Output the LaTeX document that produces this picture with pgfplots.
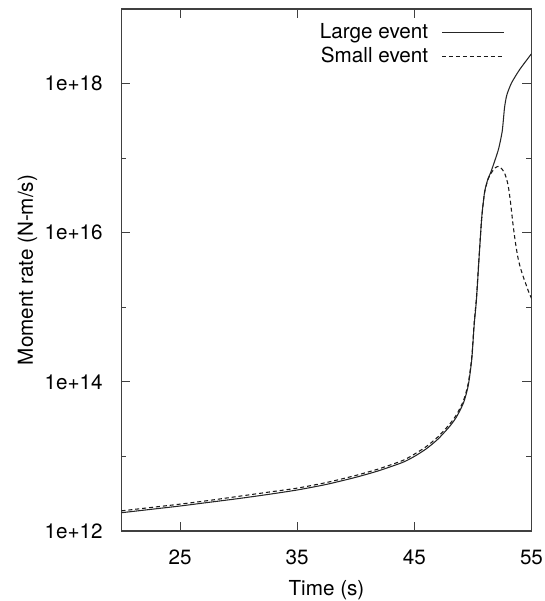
\documentclass[border=0pt]{standalone}
\usepackage{fontspec}
\setmainfont{TeX Gyre Heros}
\usepackage{pgfplots}
\pgfplotsset{compat=1.18}
\begin{document}
\begin{tikzpicture}
\begin{axis}[
  scale only axis,
  width=307.5pt, height=391.5pt,
  xmin=20, xmax=55,
  ymode=log, ymin=1e12, ymax=1e19,
  xtick={25,35,45,55}, xticklabels={25,35,45,55},
  ytick={1e12,1e14,1e16,1e18}, yticklabels={1e+12,1e+14,1e+16,1e+18},
  minor ytick={1e13,1e15,1e17},
  minor xtick={},
  tick align=inside,
  major tick length=6.75pt, minor tick length=3.75pt,
  every tick/.style={black!75, line width=0.6pt},
  axis line style={black!75, line width=0.8pt},
  tick label style={font=\fontsize{15.5}{18}\selectfont, inner sep=0pt},
  yticklabel style={anchor=east, xshift=-13.9pt},
  xticklabel style={anchor=base, yshift=-25.5pt},
  label style={font=\fontsize{15.5}{18}\selectfont, inner sep=0pt},
  xlabel={Time (s)}, ylabel={Moment rate (N-m/s)},
  xlabel style={at={(axis description cs:0.5,-0.1245)}, anchor=base},
  ylabel style={at={(axis description cs:-0.2159,0.5)}, anchor=base},
  legend cell align=right,
  legend plot pos=right,
  legend style={at={(axis description cs:0.935,0.975)}, anchor=north east,
    draw=none, fill=none, inner sep=0pt, row sep=3pt,
    font=\fontsize{15.5}{18}\selectfont,
    nodes={inner sep=1pt},
    /tikz/every odd column/.append style={column sep=9pt}},
  legend image code/.code={\draw[#1] (0pt,0pt) -- (46.5pt,0pt);},
]
\addplot[black!85, line width=0.8pt, smooth, tension=0.4] coordinates {
(20,1.758e12) (22.5,1.950e12) (25,2.163e12) (27.5,2.427e12) (30,2.723e12)
(32.5,3.090e12) (35,3.548e12) (37.5,4.217e12) (40,5.248e12) (42,6.457e12)
(44,8.318e12) (45,1.0e13) (46,1.259e13) (47,1.698e13) (48,2.512e13)
(48.6,3.388e13) (49.2,5.248e13) (49.6,8.913e13) (49.9,1.995e14) (50.1,5.623e14)
(50.3,1.259e15) (50.5,3.981e15) (50.75,1.585e16) (51.0,3.548e16) (51.3,5.370e16)
(51.5,6.310e16) (51.9,9.550e16) (52.2,1.349e17) (52.5,2.291e17) (52.7,4.786e17)
(52.9,7.079e17) (53.3,1.023e18) (54.0,1.549e18) (55,2.512e18)
};
\addlegendentry{Large event}
\addplot[black!90, line width=0.8pt, dash pattern=on 3pt off 2.2pt, smooth, tension=0.4] coordinates {
(20,1.862e12) (22.5,2.065e12) (25,2.291e12) (27.5,2.570e12) (30,2.917e12)
(32.5,3.311e12) (35,3.758e12) (37.5,4.467e12) (40,5.559e12) (42,6.839e12)
(44,8.810e12) (45,1.072e13) (46,1.349e13) (47,1.820e13) (48,2.692e13)
(48.6,3.631e13) (49.2,5.623e13) (49.6,9.550e13) (49.9,2.138e14) (50.1,6.026e14)
(50.3,1.349e15) (50.5,4.169e15) (50.75,1.585e16) (51.0,3.467e16) (51.3,5.248e16)
(51.6,6.457e16) (51.9,7.413e16) (52.2,7.762e16) (52.5,7.079e16) (52.75,6.026e16)
(53.0,4.365e16) (53.2,2.630e16) (53.4,1.380e16) (53.6,7.943e15) (53.8,5.012e15)
(54.0,3.631e15) (54.25,2.692e15) (54.5,2.089e15) (54.75,1.622e15) (55,1.318e15)
};
\addlegendentry{Small event}
\end{axis}
\pgfresetboundingbox
\path[use as bounding box] (current axis.south west) ++(-91.125pt,-52.5pt) rectangle ++(408pt,450.75pt);
\end{tikzpicture}
\end{document}
